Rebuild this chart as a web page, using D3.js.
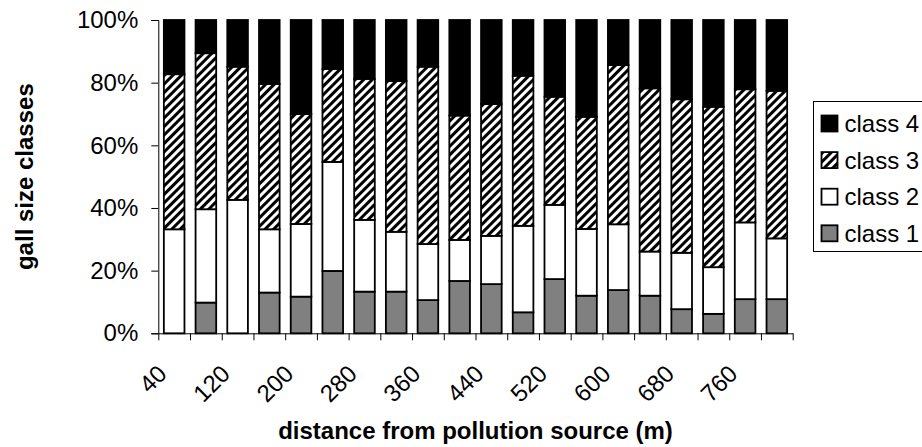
<!DOCTYPE html>
<meta charset="utf-8">
<style>
body { margin: 0; background: #fff; }
svg { font-family: "Liberation Sans", Arial, sans-serif; }
</style>
<body>
<script src="https://cdn.jsdelivr.net/npm/d3@7"></script>
<script>

// distance classes (m)
var distances = [40, 80, 120, 160, 200, 240, 280, 320, 360, 400,
                 440, 480, 520, 560, 600, 640, 680, 720, 760, 800];

// share of galls in each size class, %
var class1 = [0, 9.8, 0, 13.0, 11.7, 19.9, 13.3, 13.3, 10.6, 16.7,
              15.7, 6.7, 17.3, 12.0, 13.8, 12.0, 7.7, 6.2, 10.9, 10.9];
var class2 = [33.2, 29.8, 42.6, 20.2, 23.2, 34.8, 22.9, 19.1, 17.9, 13.1,
              15.4, 27.6, 23.7, 21.3, 21.0, 14.1, 18.0, 14.9, 24.5, 19.4];
var class3 = [49.5, 49.8, 42.5, 46.4, 35.1, 29.7, 45.0, 48.1, 56.6, 39.7,
              42.1, 47.9, 34.5, 35.8, 50.8, 52.1, 49.0, 51.2, 42.5, 47.1];
var class4 = [17.3, 10.6, 14.9, 20.4, 30.0, 15.6, 18.8, 19.5, 14.9, 30.5,
              26.8, 17.8, 24.5, 30.9, 14.4, 21.8, 25.3, 27.7, 22.1, 22.6];

var classNames = ["class 1", "class 2", "class 3", "class 4"];
var tickLabels = [40, 120, 200, 280, 360, 440, 520, 600, 680, 760];

var width = 922, height = 447;
var plotLeft = 158.3, plotRight = 792.7, plotTop = 20, plotBottom = 333.3;

var svg = d3.select("body").append("svg")
    .attr("width", width)
    .attr("height", height);

// diagonal hatching for class 3
svg.append("defs").append("pattern")
    .attr("id", "hatch")
    .attr("patternUnits", "userSpaceOnUse")
    .attr("width", 6)
    .attr("height", 6)
    .attr("patternTransform", "rotate(45)")
  .call(function(p) {
    p.append("rect").attr("width", 6).attr("height", 6).attr("fill", "#fff");
    p.append("rect").attr("width", 3).attr("height", 6).attr("fill", "#000");
  });

var fills = ["#808080", "#ffffff", "url(#hatch)", "#000000"];

var rows = distances.map(function(d, i) {
  return {dist: d, "class 1": class1[i], "class 2": class2[i], "class 3": class3[i], "class 4": class4[i]};
});

var stacked = d3.stack().keys(classNames)(rows);

var x = d3.scaleBand()
    .domain(distances)
    .range([plotLeft, plotRight])
    .paddingInner(0.35)
    .paddingOuter(0.175);

// band edges, for the category tick marks
var xEdge = d3.scaleLinear().domain([0, distances.length]).range([plotLeft, plotRight]);

var y = d3.scaleLinear().domain([0, 100]).range([plotBottom, plotTop]);

// bars
svg.append("g").selectAll("g")
    .data(stacked)
  .enter().append("g")
    .attr("fill", function(d, i) { return fills[i]; })
  .selectAll("rect")
    .data(function(d) { return d; })
  .enter().append("rect")
    .attr("x", function(d) { return x(d.data.dist); })
    .attr("width", x.bandwidth())
    .attr("y", function(d) { return y(d[1]); })
    .attr("height", function(d) { return y(d[0]) - y(d[1]); })
    .attr("stroke", "#000")
    .attr("stroke-width", 1.8);

// y axis
var yAxis = svg.append("g")
    .attr("transform", "translate(" + plotLeft + ",0)")
    .call(d3.axisLeft(y).tickValues(d3.range(0, 101, 20))
      .tickFormat(function(d) { return d + "%"; })
      .tickSize(7).tickPadding(13));
yAxis.select(".domain").attr("stroke", "#000");
yAxis.selectAll("text").attr("font-size", 24).attr("fill", "#000")
    .attr("font-family", "Liberation Sans, Arial, sans-serif");

// x axis: ticks at band edges
var xTicks = svg.append("g")
    .attr("transform", "translate(0," + plotBottom + ")")
    .call(d3.axisBottom(xEdge).tickValues(d3.range(distances.length + 1))
      .tickFormat("").tickSize(7).tickSizeOuter(0));
xTicks.select(".domain").attr("stroke", "#000");

// x labels, every second distance, slanted
var xLabels = svg.append("g")
    .attr("transform", "translate(0," + plotBottom + ")")
    .call(d3.axisBottom(x).tickValues(tickLabels).tickSize(0));
xLabels.select(".domain").remove();
xLabels.selectAll("text")
    .attr("font-size", 24)
    .attr("fill", "#000")
    .attr("font-family", "Liberation Sans, Arial, sans-serif")
    .attr("text-anchor", "end")
    .attr("dy", "0.35em")
    .attr("y", 0)
    .attr("transform", "translate(-12,36) rotate(-45)");

// axis titles
svg.append("text")
    .attr("x", (plotLeft + plotRight) / 2)
    .attr("y", 439)
    .attr("text-anchor", "middle")
    .attr("font-size", 24)
    .attr("font-weight", "bold")
    .text("distance from pollution source (m)");

svg.append("text")
    .attr("transform", "translate(33," + ((plotTop + plotBottom) / 2) + ") rotate(-90)")
    .attr("text-anchor", "middle")
    .attr("font-size", 24)
    .attr("font-weight", "bold")
    .text("gall size classes");

// legend, class 4 on top
var legend = svg.append("g").attr("transform", "translate(813.5,101.5)");
legend.append("rect")
    .attr("width", 140)
    .attr("height", 150)
    .attr("fill", "#fff")
    .attr("stroke", "#000")
    .attr("stroke-width", 1);

var items = legend.selectAll(".item")
    .data(classNames.slice().reverse())
  .enter().append("g")
    .attr("class", "item")
    .attr("transform", function(d, i) { return "translate(8," + (22 + i * 36.6) + ")"; });

items.append("rect")
    .attr("y", -8)
    .attr("width", 16)
    .attr("height", 16)
    .attr("fill", function(d) { return fills[classNames.indexOf(d)]; })
    .attr("stroke", "#000")
    .attr("stroke-width", 1.8);

items.append("text")
    .attr("x", 23)
    .attr("dy", "0.35em")
    .attr("font-size", 24)
    .text(function(d) { return d; });

</script>
</body>
